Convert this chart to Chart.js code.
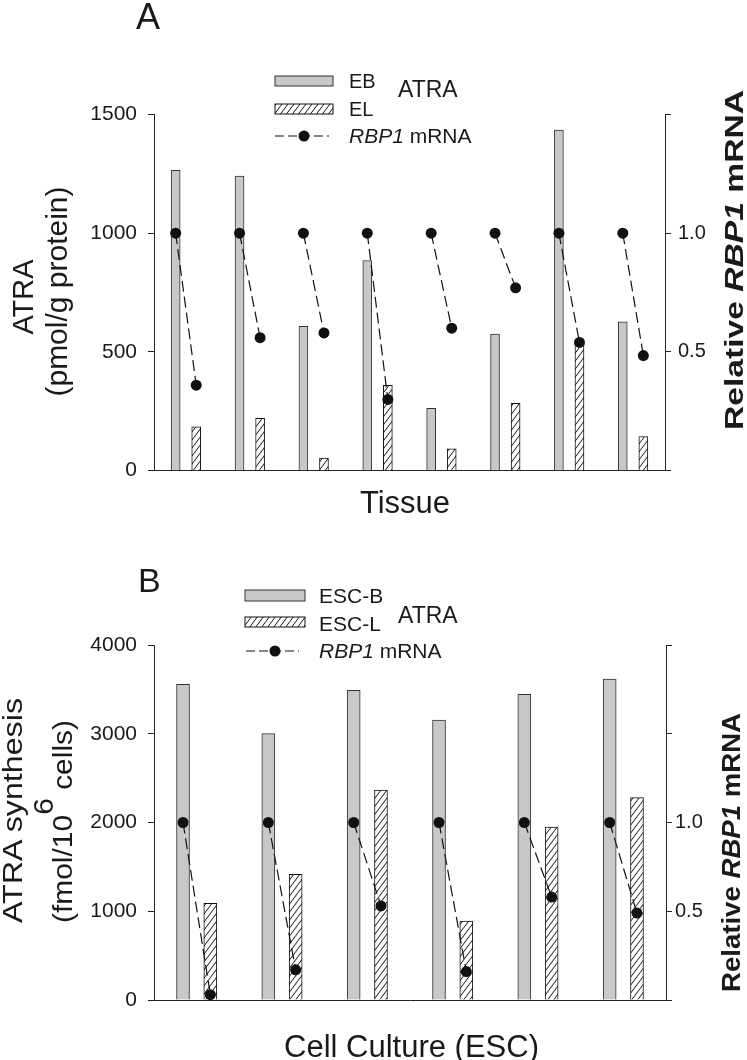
<!DOCTYPE html>
<html><head><meta charset="utf-8">
<script src="https://cdn.jsdelivr.net/npm/chart.js@4.4.1/dist/chart.umd.min.js"></script>
<style>
html,body{margin:0;padding:0;background:#fff;}
#wrap{position:relative;width:747px;height:1060px;overflow:hidden;background:#fff;}
canvas{position:absolute;left:0;}
#cA{top:0;}
#cB{top:530px;}
#ov{position:absolute;left:0;top:0;pointer-events:none;}
#ov text{font-family:"Liberation Sans",Arial,Helvetica,sans-serif;fill:#1a1a1a;}
</style></head><body>
<div id="wrap">
<canvas id="cA" width="747" height="530"></canvas>
<canvas id="cB" width="747" height="530"></canvas>
<svg id="ov" width="747" height="1060" xmlns="http://www.w3.org/2000/svg">
<defs>
<pattern id="hp" width="6" height="8" patternUnits="userSpaceOnUse">
<rect width="6" height="8" fill="#fff"/>
<path d="M-1,9.33 L7,-1.33 M5,9.33 L7,6.67 M-1,1.33 L1,-1.33" stroke="#111" stroke-width="1" fill="none"/>
</pattern>
</defs>
<!-- Panel A -->
<text x="136" y="29" font-size="36">A</text>
<rect x="275" y="76" width="58" height="10" fill="#c8c8c8" stroke="#333" stroke-width="1"/>
<text x="349" y="88" font-size="20">EB</text>
<text x="398" y="97" font-size="23">ATRA</text>
<rect x="275" y="104" width="58" height="10" fill="url(#hp)" stroke="#111" stroke-width="1"/>
<text x="349" y="116" font-size="20">EL</text>
<line x1="275" y1="136" x2="329" y2="136" stroke="#111" stroke-width="1.2" stroke-dasharray="9,4"/>
<circle cx="304" cy="136" r="5.5" fill="#111"/>
<text x="349" y="143" font-size="21"><tspan font-style="italic">RBP1</tspan> mRNA</text>
<text transform="translate(33,297) rotate(-90)" text-anchor="middle" font-size="29">ATRA</text>
<text transform="translate(66.5,291.5) rotate(-90)" text-anchor="middle" font-size="30">(pmol/g protein)</text>
<text transform="translate(743,260) rotate(-90)" text-anchor="middle" font-size="26" font-weight="bold" textLength="340" lengthAdjust="spacingAndGlyphs">Relative <tspan font-style="italic">RBP1</tspan> mRNA</text>
<text x="405" y="513" text-anchor="middle" font-size="31">Tissue</text>
<!-- Panel B -->
<text x="138" y="592" font-size="34">B</text>
<rect x="245" y="590" width="60" height="11" fill="#c8c8c8" stroke="#333" stroke-width="1"/>
<text x="319" y="603" font-size="21">ESC-B</text>
<text x="398" y="623" font-size="23">ATRA</text>
<rect x="245" y="617" width="60" height="10" fill="url(#hp)" stroke="#111" stroke-width="1"/>
<text x="319" y="631" font-size="21">ESC-L</text>
<line x1="246" y1="651" x2="299" y2="651" stroke="#111" stroke-width="1.2" stroke-dasharray="9,4"/>
<circle cx="275" cy="651" r="5.5" fill="#111"/>
<text x="319" y="658" font-size="21"><tspan font-style="italic">RBP1</tspan> mRNA</text>
<text transform="translate(22,810.5) rotate(-90)" text-anchor="middle" font-size="27" textLength="225" lengthAdjust="spacingAndGlyphs">ATRA synthesis</text>
<text transform="translate(72,821.5) rotate(-90)" text-anchor="middle" font-size="27" textLength="203" lengthAdjust="spacingAndGlyphs">(fmol/10<tspan dy="-19">6</tspan><tspan dy="19"> cells)</tspan></text>
<text transform="translate(740,852.5) rotate(-90)" text-anchor="middle" font-size="26" font-weight="bold" textLength="279" lengthAdjust="spacingAndGlyphs">Relative <tspan font-style="italic">RBP1</tspan> mRNA</text>
<text x="411.5" y="1057" text-anchor="middle" font-size="31">Cell Culture (ESC)</text>
</svg>
</div>
<script>
// ---------- Data: Panel A (tissue) ----------
const tissues = ['T1','T2','T3','T4','T5','T6','T7','T8'];
const ebATRA = [1265, 1241, 608, 885, 263, 575, 1434, 627];
const elATRA = [185, 221, 53, 360, 92, 284, 541, 144];
const tissueRbp1Base = [1.0, 1.0, 1.0, 1.0, 1.0, 1.0, 1.0, 1.0];
const tissueRbp1 = [0.36, 0.56, 0.58, 0.30, 0.60, 0.77, 0.54, 0.485];
const tissueLeftTicks = ['0', '500', '1000', '1500'];
const tissueRightTickLabels = ['0.5', '1.0'];

// ---------- Data: Panel B (cell culture) ----------
const cultures = ['C1','C2','C3','C4','C5','C6'];
const escB = [3557, 3001, 3489, 3155, 3444, 3617];
const escL = [1089, 1416, 2366, 890, 1949, 2280];
const cultureRbp1Base = [1.0, 1.0, 1.0, 1.0, 1.0, 1.0];
const cultureRbp1 = [0.03, 0.17, 0.53, 0.16, 0.58, 0.49];
const cultureLeftTicks = ['0', '1000', '2000', '3000', '4000'];
const cultureRightTickLabels = ['0.5', '1.0'];

function makeHatch(){
  const c = document.createElement('canvas');
  c.width = 6; c.height = 8;
  const g = c.getContext('2d');
  g.fillStyle = '#fff'; g.fillRect(0,0,6,8);
  g.strokeStyle = '#111'; g.lineWidth = 1;
  g.beginPath();
  g.moveTo(-1, 9.33); g.lineTo(7, -1.33);
  g.moveTo(5, 9.33); g.lineTo(7, 6.67);
  g.moveTo(-1, 1.33); g.lineTo(1, -1.33);
  g.stroke();
  return g.createPattern(c, 'repeat');
}

// bars sit at category index -/+ offset (offset in category units)
function barPoints(vals, side, off){
  return vals.map((v, i) => ({x: i + side * off, y: v}));
}
function pairLine(base, vals, off){
  const out = [];
  vals.forEach((v, i) => {
    out.push({x: i - off, y: base[i]}, {x: i + off, y: v}, {x: i + 0.5, y: null});
  });
  return out;
}

const FONT = '"Liberation Sans", Arial, Helvetica, sans-serif';

function makeChart(canvas, c){
  const hatch = makeHatch();
  const n = c.labels.length;
  return new Chart(canvas, {
    type: 'bar',
    data: {
      labels: c.labels,
      datasets: [
        {
          type: 'line', label: 'RBP1 mRNA',
          data: pairLine(c.base, c.rbp, c.off),
          xAxisID: 'xl', yAxisID: 'y2',
          borderColor: '#111', borderWidth: 1.2, borderDash: [11, 5],
          pointRadius: 5.5, pointBackgroundColor: '#111', pointBorderColor: '#111', pointBorderWidth: 0,
          spanGaps: false, fill: false, tension: 0, clip: false, order: 0
        },
        {
          type: 'bar', label: c.n1, data: barPoints(c.v1, -1, c.off), xAxisID: 'xl', yAxisID: 'y',
          backgroundColor: '#c8c8c8', borderColor: '#333', borderWidth: 1,
          grouped: false, barThickness: c.barW, order: 1
        },
        {
          type: 'bar', label: c.n2, data: barPoints(c.v2, 1, c.off), xAxisID: 'xl', yAxisID: 'y',
          backgroundColor: hatch, borderColor: '#111', borderWidth: 1,
          grouped: false, barThickness: c.barW, order: 1
        }
      ]
    },
    options: {
      responsive: false, animation: false, devicePixelRatio: 1,
      layout: { padding: { top: c.top, bottom: c.bottom, left: 0, right: 0 } },
      plugins: { legend: { display: false }, tooltip: { enabled: false } },
      scales: {
        xl: {
          type: 'linear', position: 'bottom', min: -0.5, max: n - 0.5, offset: false,
          grid: { display: false, offset: false }, ticks: { display: false },
          border: { display: true, color: '#222', width: 1 },
          afterFit: s => { s.height = 0; }
        },
        y: {
          position: 'left', min: 0, max: c.yMax,
          ticks: {
            stepSize: c.yStep, padding: 11, color: '#1a1a1a',
            font: { family: FONT, size: 21 },
            callback: v => c.leftTicks.includes(String(v)) ? String(v) : ''
          },
          grid: { drawOnChartArea: false, drawTicks: true, tickLength: 6, color: '#222', lineWidth: 1 },
          border: { display: true, color: '#222', width: 1 },
          afterFit: s => { s.width = 154; }
        },
        y2: {
          position: 'right', min: 0, max: c.y2Max,
          ticks: {
            stepSize: 0.5, padding: c.rpad, color: '#1a1a1a',
            font: { family: FONT, size: 20 },
            callback: v => c.rightLabels.includes(v.toFixed(1)) ? v.toFixed(1) : ''
          },
          grid: { drawOnChartArea: false, drawTicks: true, tickLength: 6, color: '#222', lineWidth: 1 },
          border: { display: true, color: '#222', width: 1 },
          afterFit: s => { s.width = c.rw; }
        }
      }
    }
  });
}

makeChart(document.getElementById('cA'), {
  labels: tissues, n1: 'EB', n2: 'EL', v1: ebATRA, v2: elATRA,
  base: tissueRbp1Base, rbp: tissueRbp1,
  off: 0.161, barW: 9,
  top: 114.5, bottom: 59.3, yMax: 1500, yStep: 500, y2Max: 1.5,
  leftTicks: tissueLeftTicks, rightLabels: tissueRightTickLabels,
  rpad: 7, rw: 82
});

makeChart(document.getElementById('cB'), {
  labels: cultures, n1: 'ESC-B', n2: 'ESC-L', v1: escB, v2: escL,
  base: cultureRbp1Base, rbp: cultureRbp1,
  off: 0.160, barW: 13,
  top: 115, bottom: 60, yMax: 4000, yStep: 1000, y2Max: 2.0,
  leftTicks: cultureLeftTicks, rightLabels: cultureRightTickLabels,
  rpad: 3, rw: 81
});
</script>
</body></html>
